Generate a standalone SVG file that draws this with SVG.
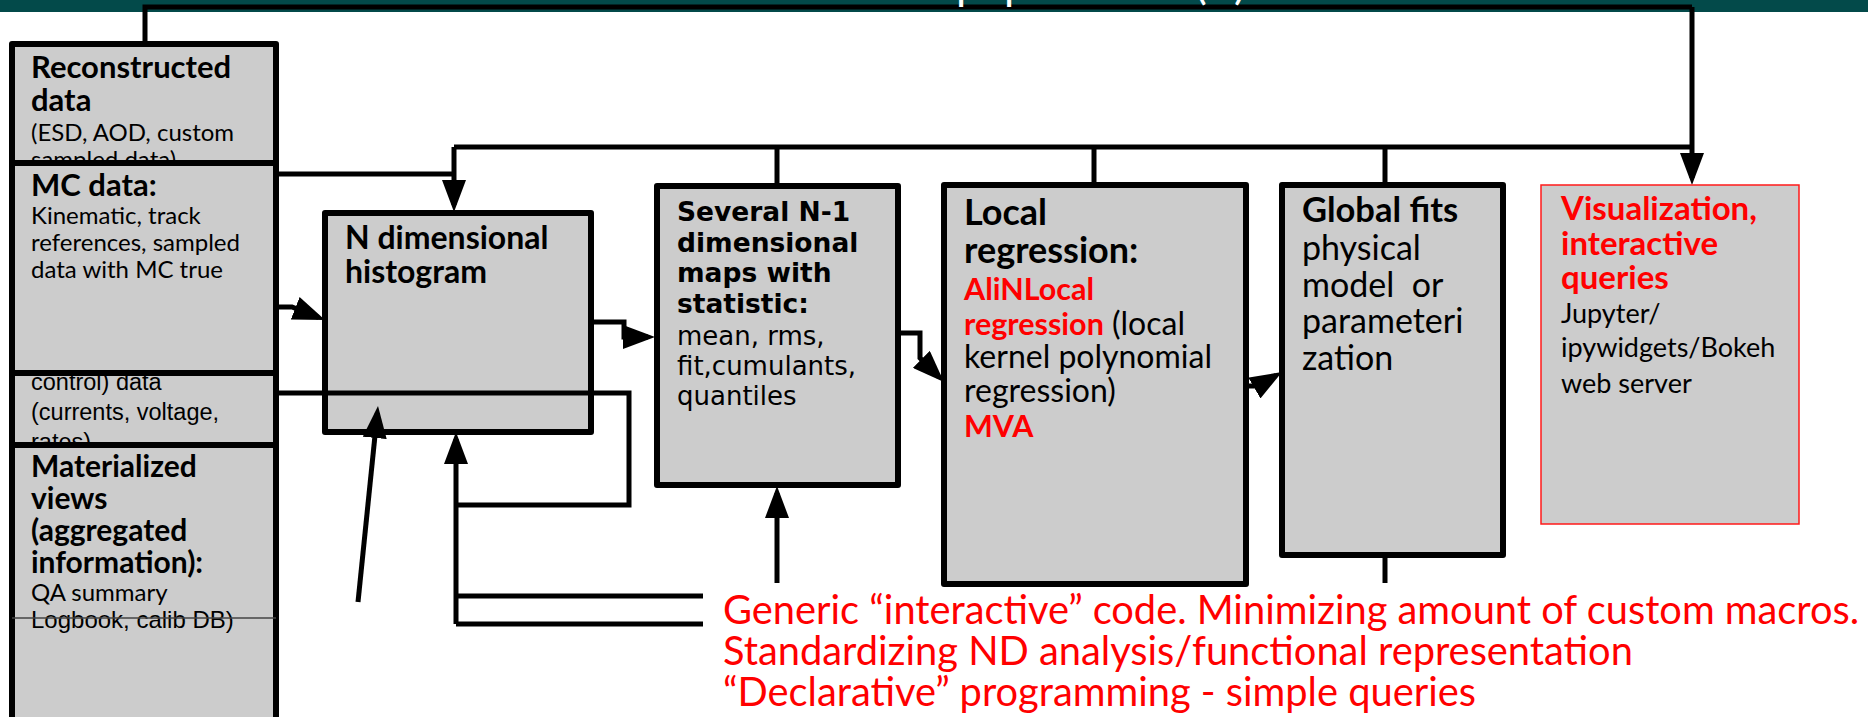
<svg xmlns="http://www.w3.org/2000/svg" width="1868" height="717" viewBox="0 0 1868 717">
  <style>
    .box { fill: #cccccc; stroke: #000; stroke-width: 6; stroke-linejoin: round; }
    .vis { fill: #cccccc; stroke: #ff1a1a; stroke-width: 1.5; }
    .wire { fill: none; stroke: #000; stroke-width: 5; stroke-linejoin: miter; }
    .arrow { fill: none; stroke: #000; stroke-width: 5; marker-end: url(#head); }
    .lb { font-family: Lato, "Open Sans", sans-serif; font-weight: 700; fill: #000; }
    .lr { font-family: Lato, "Open Sans", sans-serif; font-weight: 400; fill: #000; }
    .red { fill: #ff0000; }
    .dj { font-family: "DejaVu Sans", sans-serif; fill: #000; }
    .ar { font-family: "Liberation Sans", Arial, sans-serif; fill: #000; font-size: 24px; }
    .cond { font-size: 23.5px; }
    .head1 { font-size: 31px; }
    .small { font-size: 24px; }
  </style>
  <defs>
    <marker id="head" markerUnits="userSpaceOnUse" markerWidth="32" markerHeight="24" viewBox="0 0 32 24" refX="25" refY="12" orient="auto">
      <path d="M0,0 L32,12 L0,24 z" fill="#000"/>
    </marker>
  </defs>

  <!-- header strip with the bottom of the title -->
  <rect x="0" y="0" width="1868" height="12" fill="#034a4a"/>

  <!-- connectors -->
  <g id="connectors">
    <path class="wire" d="M145,44 V7 H1692"/>
    <path class="arrow" d="M1692,7 V178"/>
    <path class="wire" d="M454,147 H1692"/>
    <path class="arrow" d="M454,147 V205"/>
    <path class="wire" d="M276,174 H454"/>
    <path class="wire" d="M777,147 V186"/>
    <path class="wire" d="M1094,147 V185"/>
    <path class="wire" d="M1385,147 V185"/>
  </g>

  <!-- title fragments above the strip edge -->
  <text class="lr" font-size="44" style="fill:#fff">
    <tspan x="956" y="-1">p</tspan><tspan x="1004" y="-1">p</tspan><tspan x="1195" y="-1">(</tspan><tspan x="1234" y="-1">)</tspan>
  </text>

  <!-- source boxes, stacked -->
  <g id="reconstructed">
    <rect class="box" x="12" y="44" width="264" height="160"/>
    <text class="lb head1" x="31" y="78">Reconstructed</text>
    <text class="lb head1" x="31" y="111">data</text>
    <text class="lr small" x="31" y="141">(ESD, AOD, custom</text>
    <text class="lr small" x="31" y="168">sampled data)</text>
  </g>
  <g id="conditions">
    <rect class="box" x="12" y="330" width="264" height="150"/>
    <text class="ar cond" x="31" y="390">control) data</text>
    <text class="ar cond" x="31" y="420">(currents, voltage,</text>
    <text class="ar cond" x="31" y="450">rates)</text>
  </g>
  <g id="mc">
    <rect class="box" x="12" y="163" width="264" height="210"/>
    <text class="lb head1" x="31" y="196">MC data:</text>
    <text class="lr small" x="31" y="224">Kinematic, track</text>
    <text class="lr small" x="31" y="251">references, sampled</text>
    <text class="lr small" x="31" y="278">data with MC true</text>
  </g>
  <g id="materialized">
    <rect class="box" x="12" y="445" width="264" height="300"/>
    <text class="lb" font-size="30" x="31" y="477">Materialized</text>
    <text class="lb" font-size="30" x="31" y="509">views</text>
    <text class="lb" font-size="30" x="31" y="541">(aggregated</text>
    <text class="lb" font-size="30" x="31" y="573">information):</text>
    <text class="lr small" x="31" y="601">QA summary</text>
    <text class="ar" x="31" y="628">Logbook, calib DB)</text>
    <line x1="12" y1="618" x2="276" y2="618" stroke="#444" stroke-width="1.5"/>
  </g>

  <g id="ndim">
    <rect class="box" x="325" y="213" width="266" height="219"/>
    <text class="lb" font-size="32" x="345" y="249">N dimensional</text>
    <text class="lb" font-size="32" x="345" y="283">histogram</text>
  </g>

  <g id="maps">
    <rect class="box" x="657" y="186" width="241" height="299"/>
    <text class="dj" font-size="26.5" font-weight="700" x="677" y="221">Several N-1</text>
    <text class="dj" font-size="26.5" font-weight="700" x="677" y="252">dimensional</text>
    <text class="dj" font-size="26.5" font-weight="700" x="677" y="282">maps with</text>
    <text class="dj" font-size="26.5" font-weight="700" x="677" y="313">statistic:</text>
    <text class="dj" font-size="26" x="677" y="345">mean, rms,</text>
    <text class="dj" font-size="26" x="677" y="375">fit,cumulants,</text>
    <text class="dj" font-size="26" x="677" y="405">quantiles</text>
  </g>

  <g id="local">
    <rect class="box" x="944" y="185" width="302" height="399"/>
    <text class="lb" font-size="36" x="964" y="225">Local</text>
    <text class="lb" font-size="36" x="964" y="263">regression:</text>
    <text class="lb red" font-size="30.5" x="964" y="300">AliNLocal</text>
    <text class="lr" font-size="32" x="964" y="335"><tspan class="lb red" font-size="30.5">regression</tspan> (local</text>
    <text class="lr" font-size="32" x="964" y="368">kernel polynomial</text>
    <text class="lr" font-size="32" x="964" y="402">regression)</text>
    <text class="lb red" font-size="30.5" x="964" y="437">MVA</text>
  </g>

  <g id="global">
    <rect class="box" x="1282" y="185" width="221" height="370"/>
    <text class="lb" font-size="34.5" x="1302" y="222">Global fits</text>
    <text class="lr" font-size="34" x="1302" y="260">physical</text>
    <text class="lr" font-size="34" x="1302" y="297" xml:space="preserve">model  or</text>
    <text class="lr" font-size="34" x="1302" y="333">parameteri</text>
    <text class="lr" font-size="34" x="1302" y="370">zation</text>
  </g>

  <g id="visualization">
    <rect class="vis" x="1541" y="185" width="258" height="339"/>
    <text class="lb red" font-size="33" x="1561" y="220">Visualization,</text>
    <text class="lb red" font-size="33" x="1561" y="255">interactive</text>
    <text class="lb red" font-size="33" x="1561" y="289">queries</text>
    <text class="lr" font-size="27" x="1561" y="323">Jupyter/</text>
    <text class="lr" font-size="27" x="1561" y="357">ipywidgets/Bokeh</text>
    <text class="lr" font-size="27" x="1561" y="393">web server</text>
  </g>

  <!-- flow between the analysis stages -->
  <g id="flow">
    <path class="arrow" d="M276,307 H292 L318.5,317.4"/>
    <path class="arrow" d="M591,322 H624 V337 H648"/>
    <path class="arrow" d="M898,333 H920 V358 L939,377"/>
    <path class="arrow" d="M1246,386 H1258 L1276,375.5"/>
    <path class="wire" d="M276,393 H629 V505 H456"/>
    <path class="arrow" d="M456,624 V439"/>
    <path class="wire" d="M703,596 H456"/>
    <path class="wire" d="M703,624 H456"/>
    <path class="arrow" d="M777,583 V493"/>
    <path class="wire" d="M1385,555 V583"/>
    <path class="arrow" d="M358,602 L377.3,413"/>
  </g>

  <g id="note">
    <text class="lr red" font-size="39.8" x="723" y="624">Generic “interactive” code. Minimizing amount of custom macros.</text>
    <text class="lr red" font-size="39.8" x="723" y="665">Standardizing ND analysis/functional representation</text>
    <text class="lr red" font-size="39.8" x="723" y="706">“Declarative” programming - simple queries</text>
  </g>
</svg>
